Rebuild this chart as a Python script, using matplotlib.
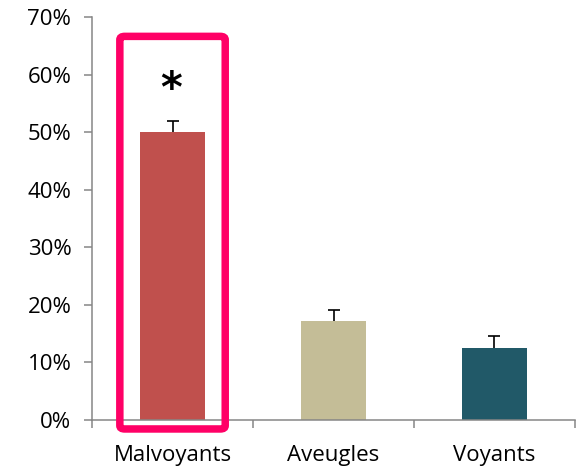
import matplotlib.pyplot as plt
from matplotlib.patches import FancyBboxPatch
from matplotlib.ticker import FuncFormatter, FixedLocator
import numpy as np

plt.rcParams['font.family'] = ['Open Sans', 'DejaVu Sans']

categories = ["Malvoyants", "Aveugles", "Voyants"]
values = [50.0, 17.2, 12.5]
errors_up = [2.0, 1.9, 2.1]
colors = ["#C0504D", "#C4BD97", "#215968"]
yticks = [0, 10, 20, 30, 40, 50, 60, 70]

fig = plt.figure(figsize=(5.76, 4.68), dpi=100)
ax = fig.add_axes([0.16, 0.1026, 0.838, 0.861])

x = np.arange(len(categories))
tops = np.array(values) + np.array(errors_up)
ax.bar(x, values, width=0.405, color=colors, zorder=2)
# upper-only error bars with a cap on top
ax.vlines(x, values, tops, color='black', linewidth=1.2, zorder=3)
ax.plot(x, tops, linestyle='none', marker='_', markersize=9,
        markeredgewidth=1.2, color='black', zorder=3)

ax.set_xlim(-0.5, 2.5)
ax.set_ylim(0, 70)
ax.set_yticks(yticks)
ax.yaxis.set_major_formatter(FuncFormatter(lambda v, p: f"{v:.0f}%"))
ax.set_xticks(x)
ax.set_xticklabels(categories)
ax.xaxis.set_minor_locator(FixedLocator([-0.5, 0.5, 1.5, 2.5]))

for side in ['top', 'right']:
    ax.spines[side].set_visible(False)
for side in ['left', 'bottom']:
    ax.spines[side].set_color('#868686')
    ax.spines[side].set_linewidth(1.1)

ax.tick_params(axis='y', length=6, width=1.1, color='#868686', labelsize=16, pad=9)
ax.tick_params(axis='x', which='major', length=0, labelsize=16, pad=18)
ax.tick_params(axis='x', which='minor', length=6, width=1.1, color='#868686')

# highlight box around the first bar
box = FancyBboxPatch((-0.328, -1.56), 0.655, 68.2,
                     boxstyle="round,pad=0,rounding_size=0.03",
                     fill=False, edgecolor='#FF0066', linewidth=5.4,
                     clip_on=False, zorder=4, mutation_aspect=20)
ax.add_patch(box)

ax.text(-0.01, 57.4, "*", ha='center', va='center', fontsize=30,
        fontweight='bold', family='DejaVu Sans')

plt.savefig('out.png', dpi=100)
